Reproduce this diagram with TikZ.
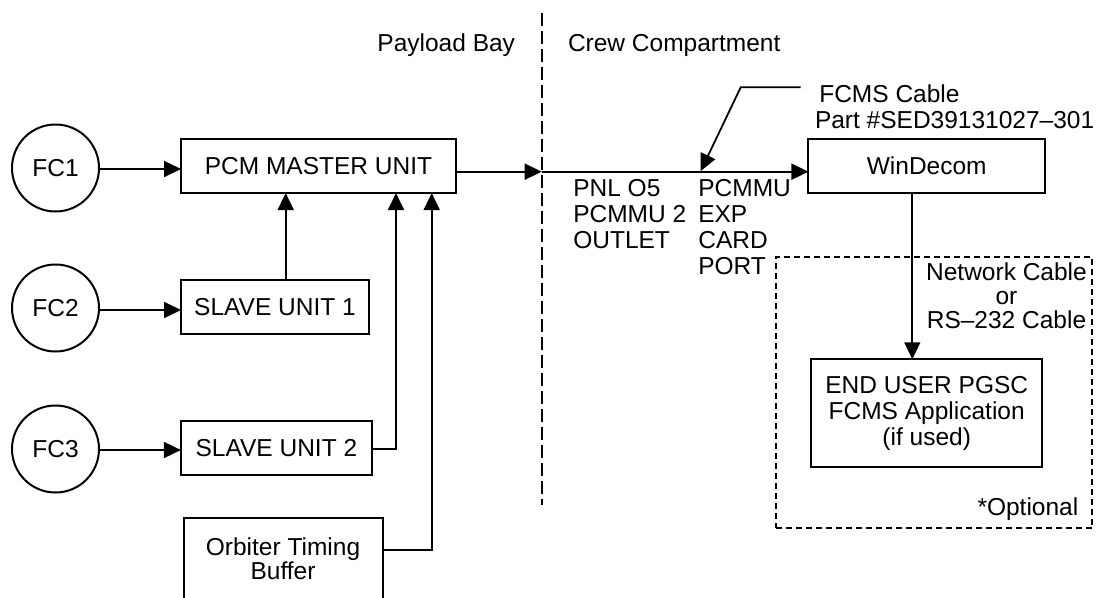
\documentclass[tikz,border=0pt]{standalone}
\usepackage{fontspec}
\setmainfont{Liberation Sans}
\usetikzlibrary{arrows.meta}
\begin{document}
\begin{tikzpicture}[x=1pt,y=-1pt,
  every node/.style={font=\fontsize{24.5}{26}\selectfont, inner sep=0pt, outer sep=0pt},
  fc/.style={draw, circle, line width=2pt, minimum size=87pt},
  unit/.style={draw, rectangle, line width=2pt, align=center},
  conn/.style={line width=1.8pt},
  arr/.style={conn, -{Triangle[length=17pt,width=16pt]}},
  lbl/.style={align=left},
  divider/.style={line width=2.2pt, dash pattern=on 13pt off 5pt},
  optbox/.style={draw, line width=2.2pt, dash pattern=on 6pt off 4pt},
]
\useasboundingbox (0,0) rectangle (1099,597);

% circles
\node[fc] (fc1) at (55.5,168) {FC1};
\node[fc] (fc2) at (55.5,308) {FC2};
\node[fc] (fc3) at (55.5,449) {FC3};

% boxes
\node[unit, minimum width=275pt, minimum height=54pt] (pcm) at (318.5,166) {PCM MASTER UNIT};
\node[unit, minimum width=188pt, minimum height=54pt] (s1) at (275,307) {SLAVE UNIT 1};
\node[unit, minimum width=191pt, minimum height=54pt] (s2) at (276.4,448) {SLAVE UNIT 2};
\node[unit, minimum width=199pt, minimum height=82pt, font=\fontsize{24.5}{24.3}\selectfont] (otb) at (283,559) {Orbiter Timing\\Buffer};
\node[unit, minimum width=236.5pt, minimum height=54pt] (win) at (926.7,166) {WinDecom};
\node[unit, minimum width=231.5pt, minimum height=107.5pt] (eu) at (926.7,413) {END USER PGSC\\FCMS Application\\(if used)};
\node[optbox, minimum width=316.3pt, minimum height=271.3pt] (opt) at (934.15,392.65) {};

% divider
\coordinate (divtop) at (541.7,12.7);
\coordinate (divbot) at (541.7,505);
\draw[divider] (divtop) -- (divbot);

% texts
\node[anchor=base east] (payload) at (515,51.8) {Payload Bay};
\node[anchor=base west] (crew) at (568,51.8) {Crew Compartment};
\node[lbl, anchor=north west] (pnl) at (573.3,179.7) {PNL O5\\PCMMU 2\\OUTLET};
\node[lbl, anchor=north west] (exp) at (698.3,179.7) {PCMMU\\EXP\\CARD\\PORT};
\node[anchor=base west] (fcms) at (819.3,102.1) {FCMS Cable};
\node[anchor=base west] (part) at (815,128.8) {Part \#SED39131027–301};
\node[align=center, anchor=north, font=\fontsize{24.5}{24.2}\selectfont] (net) at (1006.5,262.6) {Network Cable\\or\\RS–232 Cable};
\node[anchor=base east] (optional) at (1078.3,515.5) {*Optional};

% connectors
\draw[arr] (fc1.east |- 0,169) -- (pcm.west |- 0,169);
\draw[arr] (fc2.east |- 0,310) -- (s1.west |- 0,310);
\draw[arr] (fc3.east |- 0,450) -- (s2.west |- 0,450);
\draw[arr] (s1.north -| 285.7,0) -- (pcm.south -| 285.7,0);
\draw[arr] (s2.east |- 0,449.3) -| (pcm.south -| 396,0);
\draw[arr] (otb.east |- 0,550) -| (pcm.south -| 431.7,0);
\coordinate (cross) at (541.7,171.7);
\draw[arr] (pcm.east |- cross) -- (cross);
\draw[arr] (cross) -- (win.west |- cross);
\coordinate (ld1) at (800.7,87.3);
\coordinate (ld2) at (740.7,87.3);
\coordinate (ldtip) at (700.7,171);
\draw[arr] (ld1) -- (ld2) -- (ldtip);
\draw[arr] (win.south -| 912.3,0) -- (eu.north -| 912.3,0);
\end{tikzpicture}
\end{document}
